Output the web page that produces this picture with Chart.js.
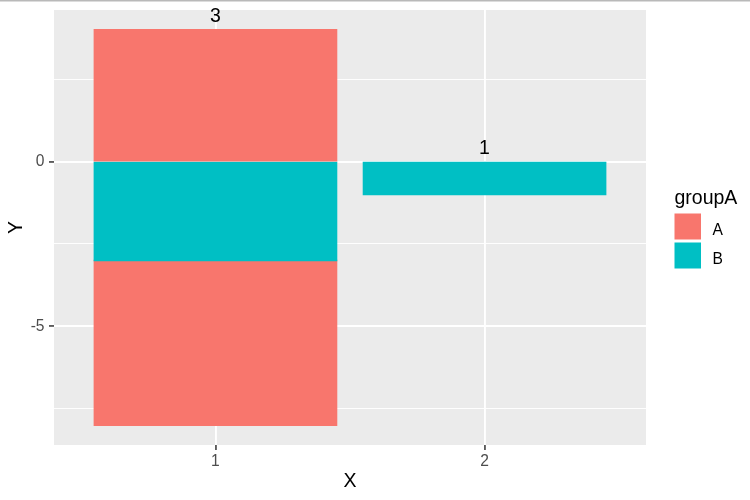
<!DOCTYPE html>
<html><head><meta charset="utf-8">
<script src="https://cdn.jsdelivr.net/npm/chart.js@4"></script>
<style>html,body{margin:0;padding:0;background:#fff}#wrap{width:750px;height:500px}</style>
</head><body><div id="wrap"><canvas id="c" width="750" height="500"></canvas></div>
<script>
// ---- data ----
const xCategories = [1, 2];
const xTickLabels = ['1', '2'];
const groups = ['A', 'B'];
const groupColors = ['#F8766D', '#00BFC4'];
// stacked layers, in ggplot stacking order
const valuesA_upper = [4, null];
const valuesB = [-3, -1];
const valuesA_lower = [-5, null];
const yTickValues = [-7.5, -5, -2.5, 0, 2.5];
const yMajorTicks = [-5, 0];
const countLabels = ['3', '1'];
const countLabelY = [4, 0];

const FONT = "'Liberation Sans', Arial, sans-serif";
Chart.defaults.font.family = FONT;

const toPts = arr => arr.map((v, i) => ({ x: xCategories[i], y: v }));
const isMajor = v => yMajorTicks.includes(v);

const bgPlugin = {
  id: 'bg',
  beforeDraw(chart) {
    const { ctx, chartArea: a } = chart;
    ctx.save();
    ctx.fillStyle = '#ffffff';
    ctx.fillRect(0, 0, chart.width, chart.height);
    ctx.fillStyle = '#b9b9b9';
    ctx.fillRect(0, 0, chart.width, 1.5);
    ctx.fillStyle = '#EBEBEB';
    ctx.fillRect(a.left, a.top, a.right - a.left, a.bottom - a.top);
    ctx.restore();
  }
};

const labelPlugin = {
  id: 'countLabels',
  afterDatasetsDraw(chart) {
    const { ctx, scales: { x, y } } = chart;
    ctx.save();
    ctx.font = '19.5px ' + FONT;
    ctx.fillStyle = '#000';
    ctx.textAlign = 'center';
    ctx.textBaseline = 'middle';
    countLabels.forEach((t, i) => {
      ctx.fillText(t, x.getPixelForValue(xCategories[i]), y.getPixelForValue(countLabelY[i]) - 13);
    });
    ctx.restore();
  }
};

const legendPlugin = {
  id: 'ggLegend',
  afterDraw(chart) {
    const { ctx } = chart;
    ctx.save();
    ctx.fillStyle = '#000';
    ctx.textAlign = 'left';
    ctx.textBaseline = 'alphabetic';
    ctx.font = '19.5px ' + FONT;
    ctx.fillText('groupA', 674.5, 203.5);
    ctx.font = '15.6px ' + FONT;
    groups.forEach((g, i) => {
      const top = 213.5 + i * 29;
      ctx.fillStyle = groupColors[i];
      ctx.fillRect(674.5, top, 26.5, 26);
      ctx.fillStyle = '#000';
      ctx.fillText(g, 712.5, top + 21);
    });
    ctx.restore();
  }
};

const zeroPad = s => { s.paddingTop = 0; s.paddingBottom = 0; s.paddingLeft = 0; s.paddingRight = 0; };
const barStyle = { borderWidth: 0, inflateAmount: 0.75, barPercentage: 0.9, categoryPercentage: 1.0 };

new Chart(document.getElementById('c'), {
  type: 'bar',
  data: {
    datasets: [
      Object.assign({ label: groups[0], data: toPts(valuesA_upper), backgroundColor: groupColors[0] }, barStyle),
      Object.assign({ label: groups[1], data: toPts(valuesB), backgroundColor: groupColors[1] }, barStyle),
      Object.assign({ label: groups[0], data: toPts(valuesA_lower), backgroundColor: groupColors[0] }, barStyle)
    ]
  },
  options: {
    responsive: false,
    animation: false,
    layout: { padding: { left: 0, top: 10, right: 104, bottom: 0 } },
    plugins: { legend: { display: false }, tooltip: { enabled: false } },
    scales: {
      x: {
        type: 'linear', min: 0.4, max: 2.6, stacked: true, offset: false,
        afterBuildTicks: s => { s.ticks = xCategories.map(v => ({ value: v })); },
        afterFit: s => { s.height = 55; zeroPad(s); },
        ticks: {
          callback: v => xTickLabels[xCategories.indexOf(v)],
          color: '#4D4D4D', font: { size: 15.6 }, padding: 2.3, maxRotation: 0, autoSkip: false
        },
        grid: { offset: false, color: '#ffffff', lineWidth: 1.9, tickLength: 5, tickColor: '#333333', tickWidth: 1.5 },
        border: { display: false },
        title: { display: true, text: 'X', color: '#000', font: { size: 19.5 }, padding: { top: 0, bottom: 6.6 } }
      },
      y: {
        type: 'linear', min: -8.6, max: 4.6, stacked: true,
        afterBuildTicks: s => { s.ticks = yTickValues.map(v => ({ value: v })); },
        afterFit: s => { s.width = 54; zeroPad(s); },
        ticks: {
          callback: v => isMajor(v) ? String(v) : '',
          color: '#4D4D4D', font: { size: 15.6 }, padding: 4.5, autoSkip: false
        },
        grid: {
          color: '#ffffff',
          lineWidth: c => isMajor(c.tick.value) ? 1.9 : 0.95,
          tickLength: 5,
          tickWidth: 1.5,
          tickColor: c => isMajor(c.tick.value) ? '#333333' : 'rgba(0,0,0,0)'
        },
        border: { display: false },
        title: { display: true, text: 'Y', color: '#000', font: { size: 19.5 }, padding: { top: 5.3, bottom: 0 } }
      }
    }
  },
  plugins: [bgPlugin, labelPlugin, legendPlugin]
});
</script></body></html>
